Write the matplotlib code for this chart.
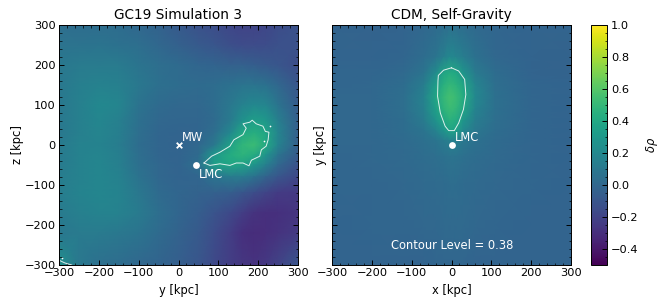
import matplotlib
matplotlib.use("Agg")
import matplotlib.pyplot as plt
from matplotlib.ticker import MultipleLocator

W, H = 664, 304

# left panel: values read by eye at these (y, z) nodes, denser around the overdensity
gc19_y = [-300, -250, -200, -150, -100, -50, 0, 50, 90, 130, 160, 190, 220, 250, 300]
gc19_z = [300, 250, 200, 150, 100, 60, 30, 0, -25, -50, -80, -120, -170, -220, -300]
gc19_grid = [
    [.04, .03, .03, .03, .00, -.03, -.08, -.12, -.15, -.18, -.20, -.20, -.18, -.15, -.12],
    [.07, .07, .08, .06, .04, .00, -.04, -.08, -.10, -.14, -.16, -.16, -.15, -.13, -.12],
    [.10, .12, .12, .12, .08, .04, .02, -.01, -.02, -.04, -.04, -.06, -.08, -.10, -.15],
    [.10, .14, .16, .15, .10, .05, .03, .02, .03, .06, .08, .08, .06, .00, -.10],
    [.10, .15, .20, .18, .07, .02, .00, .00, .03, .10, .16, .20, .18, .08, -.07],
    [.10, .15, .19, .15, .05, .00, -.01, -.01, .02, .12, .26, .34, .30, .15, -.05],
    [.10, .15, .18, .14, .04, -.01, -.02, -.01, .04, .20, .40, .44, .38, .18, -.05],
    [.12, .16, .17, .13, .03, -.01, -.02, .00, .10, .36, .48, .52, .40, .17, -.05],
    [.12, .16, .18, .14, .04, -.01, -.02, .02, .30, .42, .47, .42, .27, .08, -.08],
    [.12, .16, .19, .15, .05, .00, -.02, .05, .34, .38, .36, .28, .14, .00, -.12],
    [.13, .16, .19, .16, .07, .00, -.02, -.01, .08, .12, .12, .06, -.03, -.10, -.18],
    [.13, .17, .19, .17, .10, .02, -.01, -.03, -.04, -.06, -.10, -.15, -.20, -.24, -.25],
    [.12, .15, .17, .16, .12, .04, -.01, -.06, -.11, -.17, -.23, -.28, -.30, -.29, -.27],
    [.10, .12, .12, .10, .08, .02, -.03, -.08, -.15, -.23, -.29, -.31, -.30, -.28, -.24],
    [.25, .10, .05, .03, .00, -.02, -.05, -.10, -.17, -.23, -.26, -.28, -.25, -.20, -.10],
]

# right panel
cdm_x = [-300, -200, -120, -70, -40, -20, -5, 10, 30, 60, 110, 200, 300]
cdm_y = [300, 220, 180, 150, 120, 90, 60, 35, 10, -30, -100, -200, -300]
cdm_grid = [
    [-.02, -.03, -.02, .00, .02, .03, .04, .04, .03, .01, -.01, -.02, -.02],
    [-.02, -.02, -.01, .03, .08, .14, .20, .18, .13, .06, .00, -.02, -.03],
    [-.01, -.01, .01, .08, .22, .38, .42, .40, .28, .12, .03, -.02, -.03],
    [-.01, .00, .03, .13, .33, .45, .50, .47, .38, .18, .04, -.01, -.02],
    [.00, .00, .04, .16, .38, .50, .55, .52, .42, .20, .05, -.01, -.02],
    [.00, .00, .04, .15, .34, .47, .52, .50, .38, .17, .05, -.01, -.02],
    [.00, .00, .03, .12, .26, .38, .45, .42, .28, .13, .04, -.01, -.02],
    [.00, .00, .03, .08, .16, .27, .36, .36, .20, .10, .03, -.01, -.02],
    [.00, .00, .02, .05, .08, .12, .15, .15, .10, .06, .02, -.01, -.02],
    [-.01, .00, .01, .03, .04, .06, .07, .07, .05, .03, .01, -.01, -.02],
    [-.01, -.01, .00, .01, .02, .02, .03, .03, .02, .01, .00, -.01, -.02],
    [-.02, -.01, -.01, .00, .00, .01, .01, .01, .01, .00, -.01, -.02, -.02],
    [-.02, -.02, -.02, -.02, -.01, -.01, -.01, -.01, -.01, -.02, -.02, -.02, -.02],
]

# contour outlines at level 0.38
gc19_contour_y = [64, 83, 104, 129, 139, 162, 170, 162, 179, 185, 195, 212, 218, 227, 225, 220, 208, 204, 183, 177, 162, 145, 129, 104, 79, 64]
gc19_contour_z = [-45, -28, -18, -3, 13, 26, 42, 53, 57, 62, 53, 47, 34, 32, 13, -3, -12, -28, -38, -52, -45, -45, -51, -47, -51, -45]
corner_contour_y = [-300, -285, -268]
corner_contour_z = [-288, -295, -300]
speck_y = [230, 215, -292]
speck_z = [47, 10, -282]

cdm_contour_x = [0, -20, -33, -34, -35, -28, -16, -7, 7, 18, 30, 36, 33, 18, 0]
cdm_contour_y = [193, 187, 174, 160, 122, 80, 47, 36, 36, 55, 89, 126, 164, 185, 193]

mw_pos = (0, 0)
lmc_gc19 = (45, -50)
lmc_cdm = (0, 0)

ticks = [-300, -200, -100, 0, 100, 200, 300]
cbar_ticks = [-0.4, -0.2, 0.0, 0.2, 0.4, 0.6, 0.8, 1.0]
vmin, vmax = -0.5, 1.0


def px_axes(fig, x0, y0, x1, y1):
    return fig.add_axes([x0 / W, 1 - y1 / H, (x1 - x0) / W, (y1 - y0) / H])


def style_panel(ax, title, xlabel, ylabel):
    ax.set_xlim(-300, 300)
    ax.set_ylim(-300, 300)
    ax.set_xticks(ticks)
    ax.set_yticks(ticks)
    ax.xaxis.set_minor_locator(MultipleLocator(20))
    ax.yaxis.set_minor_locator(MultipleLocator(20))
    ax.tick_params(which="major", direction="in", top=True, right=True, length=3.5, width=0.7, labelsize=8.2, pad=2.5)
    ax.tick_params(which="minor", direction="in", top=True, right=True, length=1.8, width=0.5)
    ax.set_title(title, fontsize=9.8, pad=4)
    ax.set_xlabel(xlabel, fontsize=8.3, labelpad=4)
    ax.set_ylabel(ylabel, fontsize=8.3, labelpad=0)
    for s in ax.spines.values():
        s.set_linewidth(0.7)


fig = plt.figure(figsize=(W / 100, H / 100), dpi=100)

ax1 = px_axes(fig, 59, 25, 298, 265)
im = ax1.pcolormesh(gc19_y, gc19_z, gc19_grid, cmap="viridis", vmin=vmin, vmax=vmax, shading="gouraud")
ax1.plot(gc19_contour_y, gc19_contour_z, color="white", lw=0.7, alpha=0.85)
ax1.plot(corner_contour_y, corner_contour_z, color="white", lw=0.7, alpha=0.85)
ax1.scatter(speck_y, speck_z, s=1.5, color="white", linewidths=0)
ax1.scatter(*mw_pos, marker="x", s=16, color="white", linewidths=1.3, zorder=3)
ax1.scatter(*lmc_gc19, s=24, color="white", linewidths=0, zorder=3)
ax1.text(8, 2, "MW", color="white", fontsize=8.3, va="bottom")
ax1.text(52, -58, "LMC", color="white", fontsize=8.3, va="top")
style_panel(ax1, "GC19 Simulation 3", "y [kpc]", "z [kpc]")

ax2 = px_axes(fig, 332, 25, 571, 265)
ax2.pcolormesh(cdm_x, cdm_y, cdm_grid, cmap="viridis", vmin=vmin, vmax=vmax, shading="gouraud")
ax2.plot(cdm_contour_x, cdm_contour_y, color="white", lw=0.7, alpha=0.85)
ax2.scatter(*lmc_cdm, s=24, color="white", linewidths=0, zorder=3)
ax2.text(8, 2, "LMC", color="white", fontsize=8.3, va="bottom")
ax2.text(2, -251, "Contour Level = 0.38", color="white", fontsize=8.3, ha="center", va="center")
style_panel(ax2, "CDM, Self-Gravity", "x [kpc]", "y [kpc]")
ax2.tick_params(labelleft=False)

cax = px_axes(fig, 591, 25, 607, 265)
cb = fig.colorbar(im, cax=cax)
cb.set_ticks(cbar_ticks)
cb.ax.yaxis.set_minor_locator(MultipleLocator(0.05))
cb.ax.tick_params(which="major", direction="in", length=3.5, width=0.7, labelsize=8.2, pad=3)
cb.ax.tick_params(which="minor", direction="in", length=1.8, width=0.5)
cb.outline.set_linewidth(0.7)
cb.set_label(r"$\delta\rho$", fontsize=8.3, labelpad=4)

fig.savefig("out.png", dpi=100)
plt.close(fig)
